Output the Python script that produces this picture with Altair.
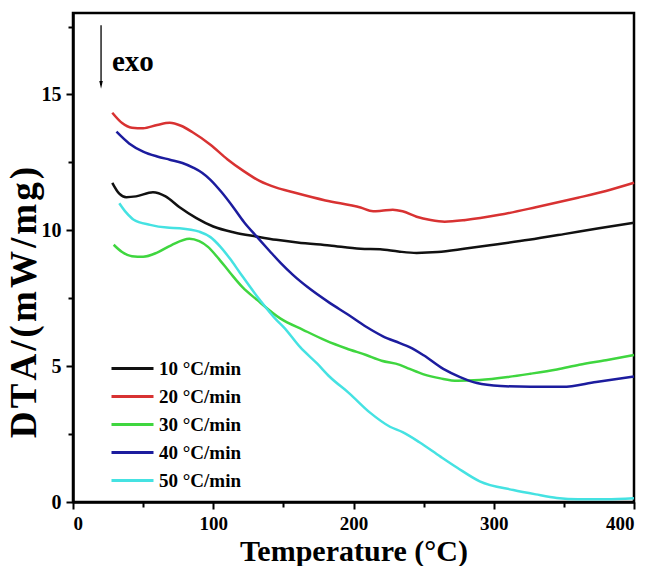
import altair as alt
import pandas as pd

# ---- data ----
series_labels = ["10 °C/min", "20 °C/min", "30 °C/min", "40 °C/min", "50 °C/min"]
series_colors = ["#111111", "#d83232", "#3fd63f", "#1c1c9e", "#45e2e2"]

t10 = [28, 33, 38, 45, 57, 66, 76, 88, 100, 115, 131, 145, 160, 183, 205, 219, 232, 245, 260, 280, 300, 325, 350, 375, 400]
v10 = [11.75, 11.35, 11.22, 11.25, 11.4, 11.25, 10.85, 10.45, 10.14, 9.92, 9.77, 9.65, 9.55, 9.44, 9.32, 9.3, 9.22, 9.17, 9.2, 9.33, 9.47, 9.65, 9.86, 10.08, 10.28]

t20 = [28, 35, 42, 50, 60, 69, 77, 85, 98, 110, 122, 133, 145, 157, 180, 205, 214, 220, 228, 235, 245, 255, 265, 280, 304, 330, 360, 380, 400]
v20 = [14.33, 13.95, 13.78, 13.76, 13.88, 13.96, 13.85, 13.62, 13.15, 12.62, 12.17, 11.82, 11.57, 11.4, 11.1, 10.84, 10.7, 10.72, 10.76, 10.7, 10.5, 10.38, 10.32, 10.38, 10.57, 10.85, 11.2, 11.45, 11.75]

t30 = [29, 35, 42, 50, 60, 70, 83, 90, 96, 104, 112, 121, 131, 148, 164, 180, 195, 209, 220, 233, 240, 250, 262, 274, 290, 310, 326, 345, 361, 380, 400]
v30 = [9.47, 9.2, 9.05, 9.03, 9.18, 9.45, 9.69, 9.6, 9.4, 8.95, 8.44, 7.9, 7.45, 6.75, 6.34, 5.95, 5.65, 5.41, 5.2, 5.05, 4.9, 4.7, 4.55, 4.46, 4.49, 4.6, 4.72, 4.88, 5.05, 5.22, 5.41]

t40 = [31, 40, 50, 60, 69, 78, 86, 92, 98, 106, 114, 122, 131, 140, 148, 157, 167, 183, 196, 209, 221, 233, 240, 250, 264, 276, 288, 305, 326, 349, 373, 400]
v40 = [13.63, 13.2, 12.9, 12.72, 12.6, 12.48, 12.3, 12.12, 11.86, 11.4, 10.87, 10.3, 9.77, 9.25, 8.8, 8.35, 7.92, 7.33, 6.9, 6.45, 6.1, 5.85, 5.7, 5.4, 4.9, 4.6, 4.38, 4.27, 4.24, 4.24, 4.42, 4.62]

t50 = [33, 38, 43, 55, 67, 76, 90, 98, 105, 112, 119, 133, 145, 150, 162, 174, 183, 197, 212, 226, 235, 247, 262, 274, 290, 314, 330, 345, 360, 380, 400]
v50 = [11.0, 10.65, 10.4, 10.2, 10.1, 10.08, 9.95, 9.75, 9.4, 8.95, 8.44, 7.45, 6.7, 6.45, 5.7, 5.1, 4.61, 4.0, 3.28, 2.77, 2.57, 2.2, 1.67, 1.26, 0.76, 0.44, 0.28, 0.15, 0.1, 0.1, 0.14]

x_ticks = [0, 50, 100, 150, 200, 250, 300, 350, 400]
y_ticks = [0, 2.5, 5, 7.5, 10, 12.5, 15, 17.5]

# annotation ("exo" arrow) in data coordinates
arrow_x = [20]
arrow_y_top = [17.55]
arrow_y_tip = [15.35]
exo_x = [27.8]
exo_y = [15.85]
exo_text = ["exo"]

FONT = "Liberation Serif"

rows = []
for lab, ts, vs in zip(series_labels, [t10, t20, t30, t40, t50], [v10, v20, v30, v40, v50]):
    for t, v in zip(ts, vs):
        rows.append({"series": lab, "T": t, "DTA": v})
df = pd.DataFrame(rows)

xscale = alt.Scale(domain=[0, 400], nice=False, zero=False)
yscale = alt.Scale(domain=[0, 18], nice=False, zero=False)

hs = "\u200a"
ytitle = hs.join(list("DTA/(mW/mg)"))

xaxis = alt.Axis(
    values=x_ticks,
    labelExpr="datum.value % 100 === 0 ? datum.label : ''",
    tickSize={"condition": {"test": "datum.value % 100 === 0", "value": 7}, "value": 5},
    title="Temperature (°C)",
    titleFontSize=30,
    titleX=280.5,
    titleY=58,
    titleBaseline="alphabetic",
    titleAlign="center",
    labelPadding=5,
    labelFontSize=19,
)
yaxis = alt.Axis(
    values=y_ticks,
    labelExpr="datum.value % 5 === 0 ? datum.label : ''",
    tickSize={"condition": {"test": "datum.value % 5 === 0", "value": 7}, "value": 5},
    title=ytitle,
    titleFontSize=37,
    titleAngle=270,
    titleX=-38,
    titleY=289,
    titleBaseline="alphabetic",
    titleAlign="center",
    labelPadding=5,
    labelFontSize=20,
)

lines = alt.Chart(df).mark_line(interpolate="monotone", strokeWidth=2.5).encode(
    x=alt.X("T:Q", scale=xscale, axis=xaxis),
    y=alt.Y("DTA:Q", scale=yscale, axis=yaxis),
    color=alt.Color(
        "series:N",
        sort=series_labels,
        scale=alt.Scale(domain=series_labels, range=series_colors),
        legend=alt.Legend(
            orient="none",
            legendX=44,
            legendY=340,
            title=None,
            symbolType="M-1.5,0H1.5",
            symbolSize=784,
            symbolStrokeWidth=3,
            labelFont=FONT,
            labelFontSize=19,
            labelFontWeight="bold",
            labelColor="#000000",
            labelOffset=11,
            rowPadding=2,
            padding=0,
        ),
    ),
    order=alt.Order("T:Q"),
)

ann_df = pd.DataFrame({"x": arrow_x, "y1": arrow_y_top, "y2": arrow_y_tip})
arrow_line = alt.Chart(ann_df).mark_rule(color="black", strokeWidth=1.3).encode(
    x=alt.X("x:Q", scale=xscale), y=alt.Y("y1:Q", scale=yscale), y2="y2:Q"
)
arrow_head = alt.Chart(ann_df).mark_point(
    shape="M-0.45,-1L0,1L0.45,-1Z", filled=True, color="black", opacity=1, size=60
).encode(x=alt.X("x:Q", scale=xscale), y=alt.Y("y2:Q", scale=yscale))

exo_df = pd.DataFrame({"x": exo_x, "y": exo_y, "t": exo_text})
exo = alt.Chart(exo_df).mark_text(
    font=FONT, fontSize=29, fontWeight="bold", align="left", baseline="alphabetic", color="black"
).encode(x=alt.X("x:Q", scale=xscale), y=alt.Y("y:Q", scale=yscale), text="t:N")

chart = (
    alt.layer(lines, arrow_line, arrow_head, exo)
    .properties(
        width=561,
        height=489,
        autosize=alt.AutoSizeParams(type="none"),
        padding={"left": 73, "top": 13, "right": 18, "bottom": 64},
        background="white",
    )
    .configure_view(stroke="black", strokeWidth=2.5)
    .configure_axis(
        grid=False,
        domainColor="black",
        domainWidth=2.5,
        tickColor="black",
        tickWidth=2,
        labelFont=FONT,
        labelFontWeight="bold",
        labelColor="black",
        titleFont=FONT,
        titleFontWeight="bold",
        titleColor="black",
    )
)

chart.save("out.html", embed_options={"renderer": "svg", "actions": False})
